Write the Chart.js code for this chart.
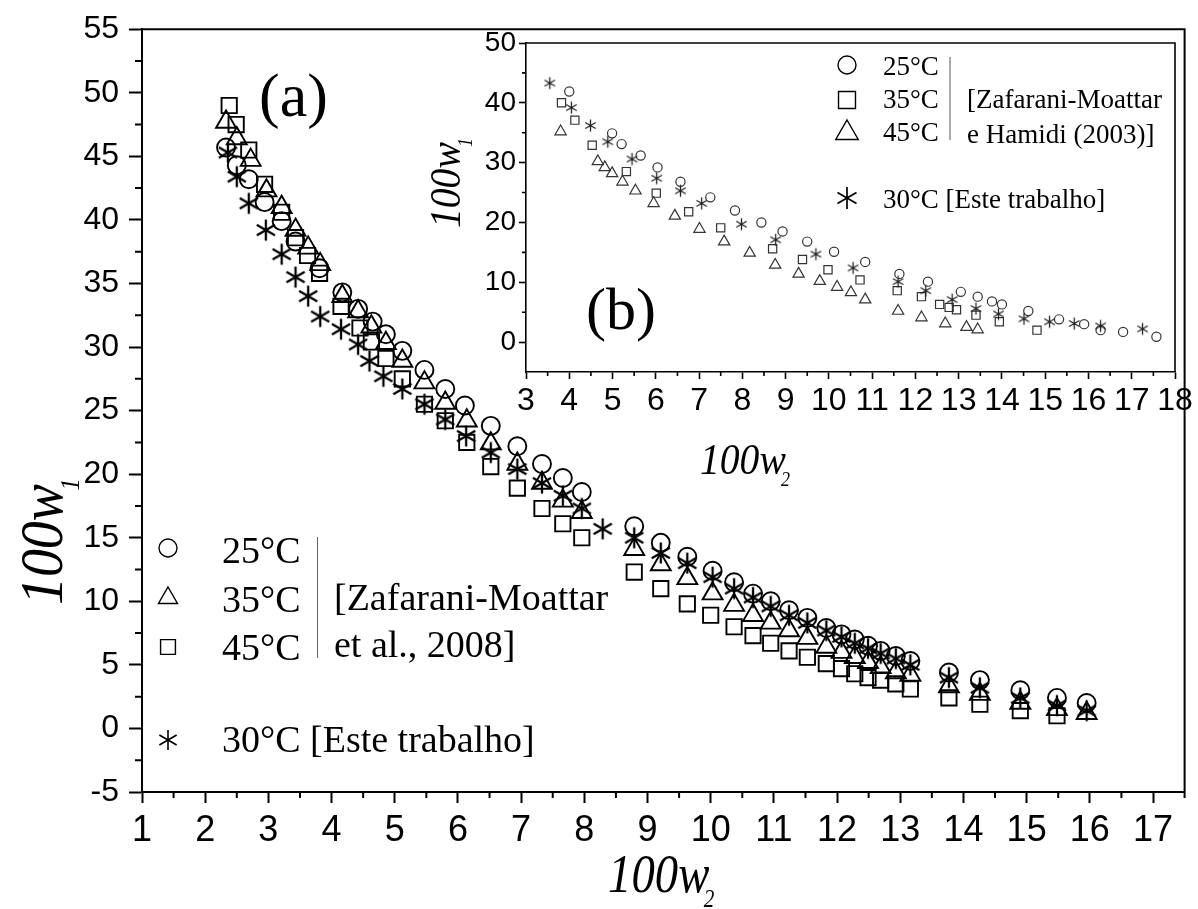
<!DOCTYPE html>
<html>
<head>
<meta charset="utf-8">
<script src="https://cdn.jsdelivr.net/npm/chart.js@4.4.1/dist/chart.umd.min.js"></script>
<style>
html, body { margin: 0; padding: 0; background: #fff; }
#wrap { position: relative; width: 1198px; height: 909px; overflow: hidden; }
#main { position: absolute; left: 0; top: 0; }
#inset { position: absolute; left: 400px; top: 0; }
</style>
</head>
<body>
<div id="wrap">
<canvas id="main" width="1198" height="909"></canvas>
<canvas id="inset" width="798" height="500"></canvas>
</div>
<script>
// ---- main plot (a): Zafarani-Moattar et al., 2008 + este trabalho
const mainX25 = [2.33, 2.5, 2.69, 2.94, 3.21, 3.43, 3.81, 4.17, 4.42, 4.65, 4.86, 5.12, 5.47, 5.8, 6.11, 6.52, 6.94, 7.33, 7.66, 7.96, 8.79, 9.21, 9.63, 10.03, 10.37, 10.67, 10.95, 11.24, 11.53, 11.83, 12.07, 12.28, 12.49, 12.69, 12.93, 13.16, 13.77, 14.26, 14.9, 15.48, 15.95];
const mainY25 = [45.7, 44.3, 43.2, 41.4, 39.9, 38.3, 36.2, 34.3, 33.0, 32.0, 31.0, 29.7, 28.2, 26.7, 25.4, 23.8, 22.2, 20.8, 19.7, 18.6, 15.9, 14.6, 13.5, 12.4, 11.5, 10.6, 10.0, 9.3, 8.7, 7.9, 7.4, 7.0, 6.5, 6.1, 5.7, 5.3, 4.4, 3.8, 3.0, 2.4, 2.0];

const mainX35 = [2.33, 2.5, 2.72, 2.97, 3.21, 3.43, 3.63, 3.82, 4.17, 4.42, 4.63, 4.86, 5.12, 5.47, 5.8, 6.14, 6.52, 6.94, 7.33, 7.66, 7.96, 8.79, 9.21, 9.63, 10.03, 10.37, 10.67, 10.95, 11.24, 11.53, 11.83, 12.07, 12.28, 12.49, 12.69, 12.93, 13.16, 13.77, 14.26, 14.9, 15.48, 15.95];
const mainY35 = [47.7, 46.4, 44.7, 42.3, 41.0, 39.2, 37.8, 36.5, 34.0, 32.8, 31.6, 30.3, 28.9, 27.2, 25.6, 24.2, 22.4, 20.8, 19.3, 17.9, 17.0, 14.1, 12.9, 11.8, 10.6, 9.7, 8.9, 8.3, 7.7, 7.1, 6.4, 6.0, 5.6, 5.2, 4.8, 4.4, 4.2, 3.3, 2.7, 2.0, 1.5, 1.2];

const mainX45 = [2.38, 2.49, 2.69, 2.94, 3.21, 3.43, 3.62, 3.81, 4.15, 4.45, 4.63, 4.86, 5.12, 5.47, 5.8, 6.14, 6.52, 6.94, 7.33, 7.66, 7.96, 8.79, 9.21, 9.63, 10.0, 10.37, 10.67, 10.95, 11.24, 11.53, 11.83, 12.07, 12.28, 12.49, 12.69, 12.93, 13.16, 13.77, 14.26, 14.9, 15.48];
const mainY45 = [49.0, 47.5, 45.5, 42.8, 40.6, 38.6, 37.2, 35.8, 33.2, 31.5, 30.4, 29.1, 27.5, 25.5, 24.2, 22.5, 20.6, 18.9, 17.3, 16.1, 15.0, 12.3, 11.0, 9.8, 8.9, 8.0, 7.3, 6.7, 6.1, 5.6, 5.1, 4.7, 4.3, 4.0, 3.8, 3.5, 3.1, 2.4, 1.9, 1.4, 1.0];

const mainX30 = [2.36, 2.5, 2.69, 2.96, 3.21, 3.43, 3.63, 3.82, 4.15, 4.42, 4.6, 4.82, 5.12, 5.47, 5.8, 6.13, 6.52, 6.94, 7.33, 7.66, 7.96, 8.29, 8.79, 9.21, 9.63, 10.03, 10.37, 10.67, 10.95, 11.24, 11.53, 11.83, 12.07, 12.28, 12.49, 12.69, 12.93, 13.16, 13.77, 14.26, 14.9, 15.48, 15.95];
const mainY30 = [45.3, 43.4, 41.3, 39.2, 37.3, 35.5, 34.0, 32.4, 31.4, 30.2, 28.9, 27.7, 26.7, 25.5, 24.3, 23.0, 21.7, 20.4, 19.3, 18.3, 17.3, 15.7, 15.0, 13.8, 13.0, 11.9, 11.0, 10.3, 9.6, 8.9, 8.3, 7.7, 7.2, 6.7, 6.3, 5.9, 5.5, 5.0, 4.0, 3.2, 2.4, 1.8, 1.4];

// ---- inset (b): Zafarani-Moattar e Hamidi (2003) + este trabalho
const insetX25 = [4.0, 4.99, 5.21, 5.65, 6.04, 6.57, 7.26, 7.83, 8.44, 8.93, 9.5, 10.12, 10.84, 11.63, 12.29, 13.05, 13.44, 13.77, 14.0, 14.61, 15.32, 15.9, 16.28, 16.8, 17.57];
const insetY25 = [41.9, 34.9, 33.1, 31.2, 29.2, 26.8, 24.2, 22.0, 20.0, 18.5, 16.8, 15.1, 13.4, 11.4, 10.1, 8.4, 7.6, 6.8, 6.3, 5.2, 3.8, 3.0, 2.0, 1.7, 0.9];

const insetX35 = [3.82, 4.13, 4.53, 5.32, 6.01, 6.76, 7.5, 8.7, 9.39, 9.98, 10.72, 11.58, 12.14, 12.56, 12.78, 12.95, 13.4, 13.94, 14.81];
const insetY35 = [40.0, 37.1, 32.9, 28.5, 24.9, 21.8, 19.1, 15.6, 13.8, 12.1, 10.4, 8.6, 7.6, 6.3, 5.8, 5.4, 4.5, 3.4, 2.0];

const insetX45 = [3.8, 4.66, 4.82, 4.99, 5.23, 5.53, 5.95, 6.44, 7.01, 7.58, 8.17, 8.76, 9.3, 9.79, 10.19, 10.51, 10.84, 11.6, 12.14, 12.69, 13.18, 13.44];
const insetY45 = [35.2, 30.2, 29.2, 28.2, 26.8, 25.3, 23.2, 21.1, 18.9, 16.8, 14.9, 12.9, 11.4, 10.2, 9.2, 8.3, 7.1, 5.2, 4.1, 3.1, 2.5, 2.1];

const insetX30 = [3.55, 4.05, 4.49, 4.89, 5.45, 6.02, 6.57, 7.06, 7.98, 8.77, 9.7, 10.56, 11.6, 12.24, 12.85, 13.4, 13.92, 14.51, 15.1, 15.67, 16.28, 17.25];
const insetY30 = [43.3, 39.2, 36.2, 33.5, 30.6, 27.4, 25.3, 23.2, 19.7, 17.1, 14.7, 12.4, 10.1, 8.6, 7.1, 5.6, 4.7, 3.9, 3.4, 3.1, 2.7, 2.2];

const serif = '"Liberation Serif", "Times New Roman", serif';
const sans = '"Liberation Sans", Arial, sans-serif';
const narrow = '"Liberation Sans Narrow", "Arial Narrow", "Liberation Sans", sans-serif';

Chart.defaults.color = '#000';
Chart.defaults.font.family = sans;

function pts(xs, ys) {
    return xs.map((x, i) => ({ x: x, y: ys[i] }));
}

// six spoke asterisk like the Origin star symbol
function makeStar(r, lw, color) {
    const c = document.createElement('canvas');
    const s = Math.ceil(2 * r + 2 * lw + 2);
    c.width = s;
    c.height = s;
    const g = c.getContext('2d');
    g.strokeStyle = color;
    g.lineWidth = lw;
    g.translate(s / 2, s / 2);
    g.beginPath();
    for (let k = 0; k < 3; k++) {
        const a = Math.PI / 2 + k * Math.PI / 3;
        g.moveTo(Math.cos(a) * r, Math.sin(a) * r);
        g.lineTo(-Math.cos(a) * r, -Math.sin(a) * r);
    }
    g.stroke();
    return c;
}

const starMain = makeStar(10.5, 2.3, '#000');
const starMainLeg = makeStar(10, 1.6, '#000');
const starInset = makeStar(6, 1.3, '#222');
const starInsetLeg = makeStar(11, 1.7, '#000');

function marker(ctx, style, r, lw, color, x, y) {
    ctx.save();
    ctx.strokeStyle = color;
    ctx.fillStyle = 'rgba(0,0,0,0)';
    ctx.lineWidth = lw;
    Chart.helpers.drawPoint(ctx, { pointStyle: style, radius: r, rotation: 0, borderWidth: lw }, x, y);
    ctx.restore();
}

function axisTitle(ctx, x, y, rot, size, sub, squeeze) {
    ctx.save();
    ctx.translate(x, y);
    ctx.rotate(rot);
    ctx.scale(squeeze, 1);
    ctx.fillStyle = '#000';
    ctx.textAlign = 'left';
    ctx.textBaseline = 'alphabetic';
    ctx.font = 'italic ' + size + 'px ' + serif;
    ctx.fillText('100w', 0, 0);
    const w = ctx.measureText('100w').width;
    ctx.font = 'italic ' + Math.round(size * 0.45) + 'px ' + serif;
    ctx.fillText(sub, w - size * 0.12, size * 0.28);
    ctx.restore();
}

function text(ctx, str, x, y, font) {
    ctx.save();
    ctx.fillStyle = '#000';
    ctx.textAlign = 'left';
    ctx.textBaseline = 'alphabetic';
    ctx.font = font;
    ctx.fillText(str, x, y);
    ctx.restore();
}

function minorTicks(ctx, scale, from, to, step, len, horizontal, edge) {
    ctx.beginPath();
    for (let v = from; v < to + 1e-9; v += step) {
        const p = scale.getPixelForValue(v);
        if (horizontal) { ctx.moveTo(p, edge); ctx.lineTo(p, edge + len); }
        else { ctx.moveTo(edge, p); ctx.lineTo(edge - len, p); }
    }
    ctx.stroke();
}

const mainDecor = {
    id: 'mainDecor',
    afterDraw(chart) {
        const ctx = chart.ctx;
        const a = chart.chartArea;
        ctx.save();
        ctx.strokeStyle = '#000';
        ctx.lineWidth = 2;
        ctx.beginPath();
        ctx.moveTo(a.left, a.top);
        ctx.lineTo(a.right, a.top);
        ctx.lineTo(a.right, a.bottom);
        ctx.stroke();
        minorTicks(ctx, chart.scales.x, 1.5, 17.5, 1, 6, true, a.bottom);
        minorTicks(ctx, chart.scales.y, -2.5, 55, 5, 7, false, a.left);
        ctx.restore();

        axisTitle(ctx, 608, 892, 0, 55, '2', 0.85);
        axisTitle(ctx, 62, 605, -Math.PI / 2, 62, '1', 0.9);
        text(ctx, '(a)', 259, 116, '62px ' + serif);

        // legend
        marker(ctx, 'circle', 9, 1.4, '#000', 168, 548);
        marker(ctx, 'triangle', 11, 1.4, '#000', 168, 598);
        marker(ctx, 'rect', 10.5, 1.4, '#000', 168, 647);
        ctx.drawImage(starMainLeg, 168 - starMainLeg.width / 2, 740 - starMainLeg.height / 2);
        const lf = '38px ' + serif;
        text(ctx, '25°C', 222, 563, lf);
        text(ctx, '35°C', 222, 612, lf);
        text(ctx, '45°C', 222, 660, lf);
        text(ctx, '[Zafarani-Moattar', 334, 610, lf);
        text(ctx, 'et al., 2008]', 334, 657, lf);
        text(ctx, '30°C [Este trabalho]', 222, 752, lf);
        ctx.save();
        ctx.strokeStyle = '#666';
        ctx.lineWidth = 1;
        ctx.beginPath();
        ctx.moveTo(317.5, 537);
        ctx.lineTo(317.5, 658);
        ctx.stroke();
        ctx.restore();
    }
};

const insetDecor = {
    id: 'insetDecor',
    afterDraw(chart) {
        const ctx = chart.ctx;
        const a = chart.chartArea;
        const ox = -400;
        ctx.save();
        ctx.strokeStyle = '#000';
        ctx.lineWidth = 1.6;
        ctx.beginPath();
        ctx.moveTo(a.left, a.top);
        ctx.lineTo(a.right, a.top);
        ctx.lineTo(a.right, a.bottom);
        ctx.stroke();
        minorTicks(ctx, chart.scales.x, 3.5, 18, 1, 4, true, a.bottom);
        minorTicks(ctx, chart.scales.y, 5, 50, 10, 4, false, a.left);
        ctx.restore();

        axisTitle(ctx, 700 + ox, 474, 0, 44, '2', 0.9);
        axisTitle(ctx, 460 + ox, 228, -Math.PI / 2, 44, '1', 0.9);
        text(ctx, '(b)', 586 + ox, 329, '60px ' + serif);

        // legend
        marker(ctx, 'circle', 9, 1.4, '#000', 847 + ox, 65);
        marker(ctx, 'rect', 12, 1.4, '#000', 847 + ox, 100);
        marker(ctx, 'triangle', 13, 1.4, '#000', 847 + ox, 133);
        ctx.drawImage(starInsetLeg, 847 + ox - starInsetLeg.width / 2, 198 - starInsetLeg.height / 2);
        const lf = '27px ' + serif;
        text(ctx, '25°C', 883 + ox, 75, lf);
        text(ctx, '35°C', 883 + ox, 108, lf);
        text(ctx, '45°C', 883 + ox, 141, lf);
        text(ctx, '[Zafarani-Moattar', 967 + ox, 108, lf);
        text(ctx, 'e Hamidi (2003)]', 967 + ox, 143, lf);
        text(ctx, '30°C [Este trabalho]', 883 + ox, 208, lf);
        ctx.save();
        ctx.strokeStyle = '#555';
        ctx.lineWidth = 1;
        ctx.beginPath();
        ctx.moveTo(950 + ox, 57);
        ctx.lineTo(950 + ox, 140);
        ctx.stroke();
        ctx.restore();
    }
};

function ds(label, xs, ys, style, r, lw, color) {
    return {
        label: label,
        data: pts(xs, ys),
        pointStyle: style,
        pointRadius: r,
        pointHoverRadius: r,
        pointBorderWidth: lw,
        pointBorderColor: color,
        pointBackgroundColor: 'rgba(0,0,0,0)',
        showLine: false
    };
}

new Chart(document.getElementById('main'), {
    type: 'scatter',
    data: {
        datasets: [
            ds('30°C [Este trabalho]', mainX30, mainY30, starMain, 10.5, 2.3, '#000'),
            ds('25°C', mainX25, mainY25, 'circle', 9, 1.9, '#000'),
            ds('35°C', mainX35, mainY35, 'triangle', 11.5, 1.9, '#000'),
            ds('45°C', mainX45, mainY45, 'rect', 10.8, 1.9, '#000')
        ]
    },
    options: {
        responsive: false,
        animation: false,
        devicePixelRatio: 1,
        layout: { padding: { left: 0, top: 27, right: 3, bottom: 57 } },
        plugins: { legend: { display: false }, tooltip: { enabled: false } },
        scales: {
            x: {
                type: 'linear',
                min: 1,
                max: 17.5,
                afterFit: s => { s.height = 60; },
                ticks: { stepSize: 1, includeBounds: false, autoSkip: false, maxRotation: 0, padding: 6, color: '#000', font: { family: narrow, size: 36 } },
                grid: { drawOnChartArea: false, tickLength: 11, tickWidth: 2, tickColor: '#000' },
                border: { display: true, color: '#000', width: 2 }
            },
            y: {
                type: 'linear',
                min: -5,
                max: 55,
                afterFit: s => { s.width = 142; },
                ticks: { stepSize: 5, includeBounds: false, autoSkip: false, padding: 10, color: '#000', font: { family: sans, size: 32 } },
                grid: { drawOnChartArea: false, tickLength: 13, tickWidth: 2, tickColor: '#000' },
                border: { display: true, color: '#000', width: 2 }
            }
        }
    },
    plugins: [mainDecor]
});

new Chart(document.getElementById('inset'), {
    type: 'scatter',
    data: {
        datasets: [
            ds('30°C [Este trabalho]', insetX30, insetY30, starInset, 6, 1.3, '#222'),
            ds('25°C', insetX25, insetY25, 'circle', 4.6, 1.2, '#333'),
            ds('35°C', insetX35, insetY35, 'rect', 5.8, 1.2, '#333'),
            ds('45°C', insetX45, insetY45, 'triangle', 6.5, 1.2, '#333')
        ]
    },
    options: {
        responsive: false,
        animation: false,
        devicePixelRatio: 1,
        layout: { padding: { left: 0, top: 43, right: 23, bottom: 78 } },
        plugins: { legend: { display: false }, tooltip: { enabled: false } },
        scales: {
            x: {
                type: 'linear',
                min: 3,
                max: 18,
                afterFit: s => { s.height = 50; },
                ticks: { stepSize: 1, autoSkip: false, maxRotation: 0, padding: 3, color: '#000', font: { family: narrow, size: 32 } },
                grid: { drawOnChartArea: false, tickLength: 7, tickWidth: 1.6, tickColor: '#000' },
                border: { display: true, color: '#000', width: 1.6 }
            },
            y: {
                type: 'linear',
                min: -5,
                max: 50,
                afterFit: s => { s.width = 126; },
                ticks: { stepSize: 10, includeBounds: false, autoSkip: false, padding: 3, color: '#000', font: { family: sans, size: 28 } },
                grid: { drawOnChartArea: false, tickLength: 7, tickWidth: 1.6, tickColor: '#000' },
                border: { display: true, color: '#000', width: 1.6 }
            }
        }
    },
    plugins: [insetDecor]
});
</script>
</body>
</html>
